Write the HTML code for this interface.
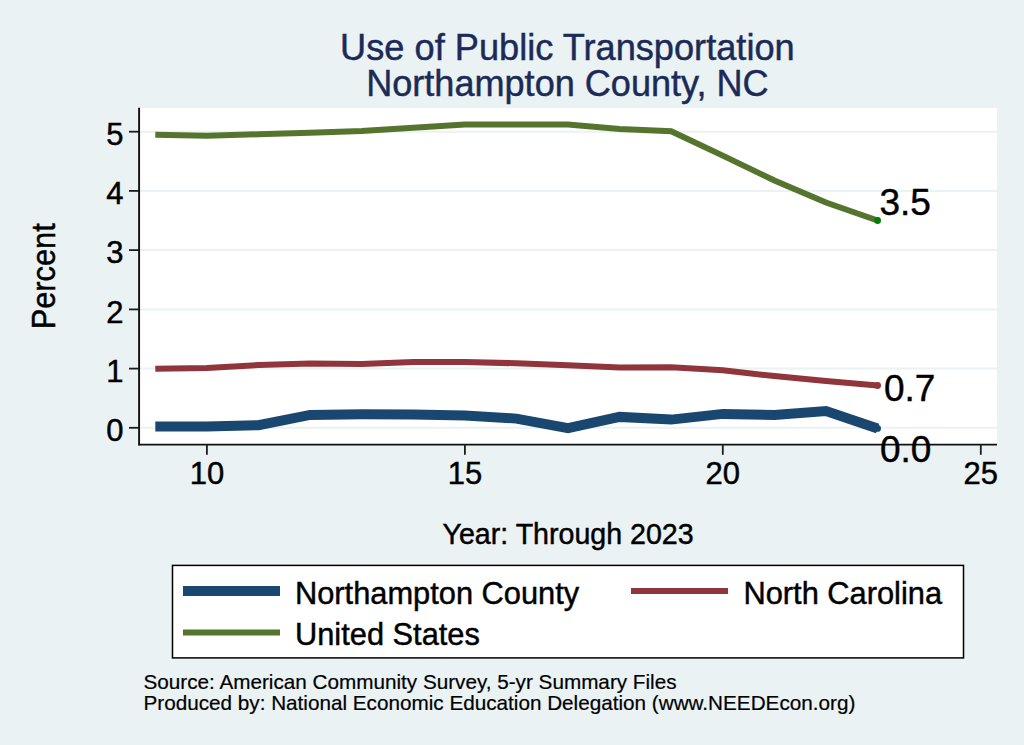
<!DOCTYPE html>
<html><head><meta charset="utf-8"><style>
html,body{margin:0;padding:0;background:#EAF2F3;}
svg{display:block;}
text{font-family:"Liberation Sans",sans-serif;fill:#000;stroke:#000;stroke-width:0.45px;}
</style></head><body>
<svg width="1024" height="745" viewBox="0 0 1024 745">
<rect x="0" y="0" width="1024" height="745" fill="#EAF2F3"/>
<text transform="translate(567.4,59.9) scale(1.0,1.03)" font-size="36.2" text-anchor="middle" style="fill:#1C2A58;stroke:#1C2A58">Use of Public Transportation</text>

<text transform="translate(567.4,95.9) scale(1.0,1.03)" font-size="36.1" text-anchor="middle" style="fill:#1C2A58;stroke:#1C2A58">Northampton County, NC</text>

<rect x="139" y="108" width="858" height="336" fill="#fff"/>
<line x1="140" x2="997" y1="427.8" y2="427.8" stroke="#EAF2F3" stroke-width="2"/><line x1="140" x2="997" y1="368.6" y2="368.6" stroke="#EAF2F3" stroke-width="2"/><line x1="140" x2="997" y1="309.4" y2="309.4" stroke="#EAF2F3" stroke-width="2"/><line x1="140" x2="997" y1="250.1" y2="250.1" stroke="#EAF2F3" stroke-width="2"/><line x1="140" x2="997" y1="190.9" y2="190.9" stroke="#EAF2F3" stroke-width="2"/><line x1="140" x2="997" y1="131.7" y2="131.7" stroke="#EAF2F3" stroke-width="2"/>
<polyline points="155.3,134.7 206.9,135.7 258.5,134.3 310.1,132.8 361.7,131.1 413.3,127.8 464.9,124.4 516.4,124.5 568.0,124.5 619.6,129.0 671.2,131.3 722.8,155.6 774.4,180.5 826.0,202.5 877.6,220.5" fill="none" stroke="#55752F" stroke-width="6" stroke-linejoin="miter"/>
<polyline points="155.3,368.8 206.9,368.0 258.5,365.0 310.1,363.6 361.7,364.1 413.3,361.9 464.9,361.9 516.4,363.3 568.0,365.2 619.6,367.4 671.2,367.3 722.8,370.2 774.4,376.1 826.0,380.9 877.6,385.5" fill="none" stroke="#90353B" stroke-width="6" stroke-linejoin="miter"/>
<polyline points="155.3,426.5 206.9,426.4 258.5,425.2 310.1,414.9 361.7,414.3 413.3,414.4 464.9,415.6 516.4,418.6 568.0,428.2 619.6,416.9 671.2,419.6 722.8,413.9 774.4,415.1 826.0,411.1 877.6,428.4" fill="none" stroke="#1A476F" stroke-width="10" stroke-linejoin="miter"/>
<circle cx="877.6" cy="220.5" r="3.4" fill="#008000"/>
<circle cx="877.6" cy="385.5" r="3.4" fill="#90353B"/>
<circle cx="877.6" cy="428.4" r="3.4" fill="#1A476F"/>
<line x1="139.1" x2="139.1" y1="107.8" y2="445.3" stroke="#111" stroke-width="1.9"/>
<line x1="138.2" x2="997" y1="444.6" y2="444.6" stroke="#111" stroke-width="1.7"/>
<line x1="129" x2="139" y1="427.8" y2="427.8" stroke="#1c1c1c" stroke-width="1.8"/><line x1="129" x2="139" y1="368.6" y2="368.6" stroke="#1c1c1c" stroke-width="1.8"/><line x1="129" x2="139" y1="309.4" y2="309.4" stroke="#1c1c1c" stroke-width="1.8"/><line x1="129" x2="139" y1="250.1" y2="250.1" stroke="#1c1c1c" stroke-width="1.8"/><line x1="129" x2="139" y1="190.9" y2="190.9" stroke="#1c1c1c" stroke-width="1.8"/><line x1="129" x2="139" y1="131.7" y2="131.7" stroke="#1c1c1c" stroke-width="1.8"/><text transform="translate(123.5,441.0) scale(1.0,1.03)" font-size="31" text-anchor="end">0</text>
<text transform="translate(123.5,381.8) scale(1.0,1.03)" font-size="31" text-anchor="end">1</text>
<text transform="translate(123.5,322.6) scale(1.0,1.03)" font-size="31" text-anchor="end">2</text>
<text transform="translate(123.5,263.3) scale(1.0,1.03)" font-size="31" text-anchor="end">3</text>
<text transform="translate(123.5,204.1) scale(1.0,1.03)" font-size="31" text-anchor="end">4</text>
<text transform="translate(123.5,144.9) scale(1.0,1.03)" font-size="31" text-anchor="end">5</text>
<line x1="206.9" x2="206.9" y1="444" y2="454.8" stroke="#1c1c1c" stroke-width="1.8"/><line x1="464.9" x2="464.9" y1="444" y2="454.8" stroke="#1c1c1c" stroke-width="1.8"/><line x1="722.8" x2="722.8" y1="444" y2="454.8" stroke="#1c1c1c" stroke-width="1.8"/><line x1="980.8" x2="980.8" y1="444" y2="454.8" stroke="#1c1c1c" stroke-width="1.8"/><text transform="translate(206.9,484.0) scale(1.0,1.03)" font-size="31" text-anchor="middle">10</text>
<text transform="translate(464.9,484.0) scale(1.0,1.03)" font-size="31" text-anchor="middle">15</text>
<text transform="translate(722.8,484.0) scale(1.0,1.03)" font-size="31" text-anchor="middle">20</text>
<text transform="translate(980.8,484.0) scale(1.0,1.03)" font-size="31" text-anchor="middle">25</text>

<text transform="translate(879.5,215.0)" font-size="37" text-anchor="start">3.5</text>

<text transform="translate(884.0,401.0)" font-size="37" text-anchor="start">0.7</text>

<text transform="translate(880.0,462.4)" font-size="37" text-anchor="start">0.0</text>

<text transform="translate(54.9,329.3) rotate(-90) scale(1.0,1.05)" font-size="30.8" text-anchor="start">Percent</text>

<text transform="translate(442.5,543.9) scale(1.0,1.02)" font-size="28.6" text-anchor="start">Year: Through 2023</text>

<rect x="172.5" y="565.4" width="791" height="92.5" fill="#fff" stroke="#000" stroke-width="1.5"/>
<rect x="183" y="586" width="97" height="10" fill="#1A476F"/>
<rect x="631" y="588" width="97" height="6" fill="#90353B"/>
<rect x="183" y="629.5" width="97" height="6" fill="#55752F"/>
<text transform="translate(295.0,604.0)" font-size="30.8" text-anchor="start">Northampton County</text>

<text transform="translate(743.5,604.0)" font-size="30.8" text-anchor="start">North Carolina</text>

<text transform="translate(295.0,645.0)" font-size="30.8" text-anchor="start">United States</text>

<text transform="translate(143.5,688.8)" font-size="20.7" text-anchor="start" style="fill:#000;stroke-width:0.2px;stroke:#000;stroke-width:0.2px">Source: American Community Survey, 5-yr Summary Files</text>

<text transform="translate(143.5,709.9)" font-size="20.7" text-anchor="start" style="fill:#000;stroke-width:0.2px;stroke:#000;stroke-width:0.2px">Produced by: National Economic Education Delegation (www.NEEDEcon.org)</text>

</svg>
</body></html>
